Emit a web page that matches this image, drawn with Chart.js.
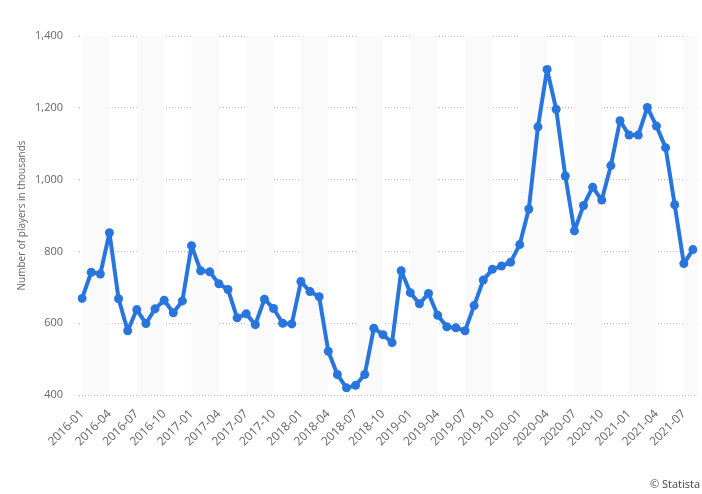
<!DOCTYPE html>
<html>
<head>
<meta charset="utf-8">
<script src="https://cdn.jsdelivr.net/npm/chart.js@4"></script>
<style>
html,body{margin:0;padding:0;background:#fff}
#wrap{width:702px;height:494px;position:relative}
</style>
</head>
<body>
<div id="wrap"><canvas id="c"></canvas></div>
<script>
// monthly, 2016-01 .. 2021-08
const months=[]
for(let y=2016;y<=2021;y++){
for(let m=1;m<=12;m++){
if(y===2021&&m>8) break
months.push(y+"-"+String(m).padStart(2,"0"))
}
}

const players=[
669,742,737,852,668,579,638,599,640,664,629,662,
816,746,743,710,694,615,626,596,667,641,600,598,
716,688,674,522,457,420,427,457,586,568,546,746,
685,654,683,622,590,587,579,649,720,750,759,770,
819,918,1147,1307,1196,1010,857,928,979,943,1039,1164,
1124,1124,1201,1149,1089,930,766,805
]

const yTicks=[400,600,800,1000,1200,1400]

const FONT="'Open Sans', sans-serif"

// light vertical bands every other quarter + source note
const bands={
id:"bands",
beforeDatasetsDraw(chart){
const {ctx,chartArea:a,scales:{x}}=chart
ctx.save()
ctx.beginPath()
ctx.rect(a.left,a.top,a.right-a.left,a.bottom-a.top)
ctx.clip()
ctx.fillStyle="#fafafa"
for(let i=0;i<months.length;i+=6){
const x0=x.getPixelForValue(i)
const x1=x.getPixelForValue(i+3)
ctx.fillRect(x0,a.top,x1-x0,a.bottom-a.top)
}
ctx.restore()
},
afterDraw(chart){
const ctx=chart.ctx
ctx.save()
ctx.font="11px "+FONT
ctx.fillStyle="#444"
ctx.textAlign="right"
ctx.textBaseline="alphabetic"
ctx.fillText("\u00a9 Statista",700,488)
ctx.restore()
}
}

new Chart(document.getElementById("c"),{
type:"line",
data:{
datasets:[{
data:players.map((v,i)=>({x:i,y:v})),
borderColor:"#2876dd",
backgroundColor:"#2876dd",
borderWidth:4,
borderJoinStyle:"round",
pointRadius:4.5,
pointBorderWidth:0,
pointHoverRadius:4.5,
tension:0
}]
},
options:{
responsive:true,
maintainAspectRatio:false,
animation:false,
layout:{padding:{left:12,right:1,top:36,bottom:0}},
plugins:{legend:{display:false},tooltip:{enabled:false}},
scales:{
x:{
type:"linear",
min:-0.45,
max:67.5,
afterFit(s){
s.height=99
s.paddingLeft=0
s.paddingRight=0
},
afterBuildTicks(s){
s.ticks=months.map((m,i)=>({value:i})).filter(t=>t.value%3===0)
},
grid:{display:false,drawTicks:false},
border:{display:false},
ticks:{
autoSkip:false,
minRotation:45,
maxRotation:45,
padding:12,
color:"#666",
font:{family:FONT,size:12},
callback:v=>months[v]
}
},
y:{
min:400,
max:1400,
afterFit(s){s.width=66},
afterBuildTicks(s){s.ticks=yTicks.map(v=>({value:v}))},
grid:{color:"#bbbbbb",drawTicks:false,lineWidth:1},
border:{display:true,color:"rgba(0,0,0,0)",dash:[1,2]},
ticks:{
padding:15,
color:"#666",
font:{family:FONT,size:11}
},
title:{
display:true,
text:"Number of players in thousands",
color:"#666",
font:{family:FONT,size:10}
}
}
}
},
plugins:[bands]
})
</script>
</body>
</html>
